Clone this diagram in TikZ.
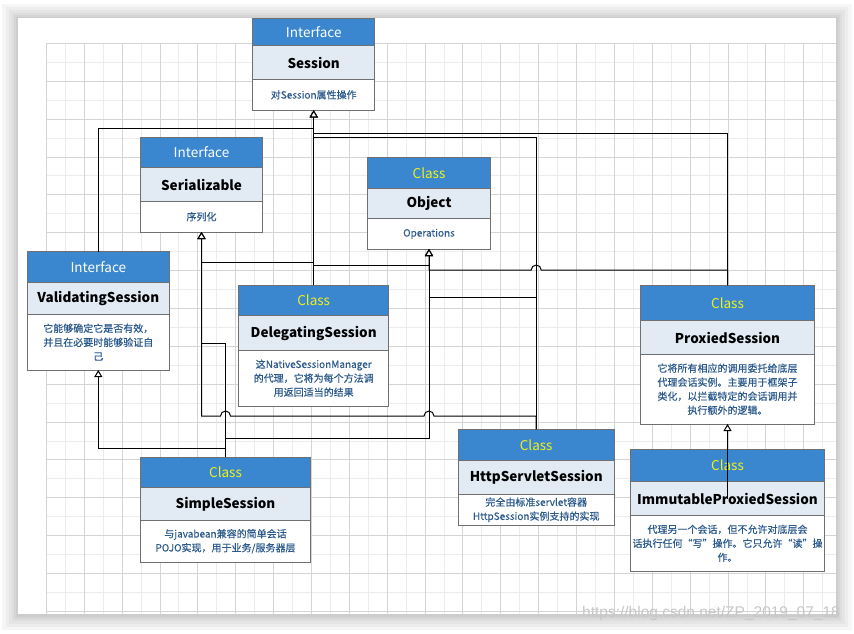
\documentclass[tikz,border=0pt]{standalone}
\usepackage{fontspec}
\setmainfont{Noto Sans CJK SC}
\newfontfamily\descfont{Noto Sans CJK SC}[FakeBold=0.4]
\newfontfamily\wmfont{Liberation Sans}
\usetikzlibrary{positioning,arrows.meta,calc}

\definecolor{hdrblue}{RGB}{58,135,208}
\definecolor{namebg}{RGB}{226,234,244}
\definecolor{descblue}{RGB}{44,90,140}
\definecolor{classyellow}{RGB}{240,240,20}
\definecolor{boxgray}{RGB}{112,112,112}
\definecolor{gridminor}{RGB}{236,236,236}
\definecolor{gridmajor}{RGB}{212,212,212}

\begin{document}
\begin{tikzpicture}[x=1pt,y=1pt,
    box/.style={draw=boxgray,line width=1pt,inner sep=0pt,outer sep=0pt,align=center},
    hdr/.style={box,fill=hdrblue,anchor=north,font=\fontsize{13.5}{15}\selectfont},
    iface/.style={hdr,text=white},
    klass/.style={hdr,text=classyellow},
    cname/.style={box,fill=namebg,font=\bfseries\fontsize{13.5}{16}\selectfont},
    cbody/.style={box,fill=white,text=descblue,font=\descfont\fontsize{10}{14}\selectfont},
    conn/.style={line width=1pt},
    realize/.style={conn,-{Triangle[fill=white,length=7pt,width=8pt]}},
    shade/.style={fill=black,fill opacity=0.035}
  ]
  \useasboundingbox (0,0) rectangle (854,-633);

  % page with its shadow
  \fill[shade] (2,-4) rectangle (852,-630);
  \fill[shade] (6,-7) rectangle (848,-627);
  \fill[shade] (9,-10) rectangle (845,-624);
  \fill[shade] (12,-13) rectangle (842,-621);
  \fill[shade] (14,-15) rectangle (840,-619);
  \fill[shade] (16,-17) rectangle (838,-617);
  \fill[white] (18,-18) rectangle (836,-614);
  \begin{scope}[shift={(46.3,-43.3)}]
    \draw[gridminor,line width=0.8pt,step=18.935pt] (0,0) grid (789.7,-570.7);
    \draw[gridmajor,line width=0.8pt,step=37.87pt] (0,0) grid (789.7,-570.7);
  \end{scope}

  % interfaces
  \node at (313.7,-18.3) [iface,minimum width=122,minimum height=27.4] (sesH) {Interface};
  \node [cname,minimum width=122,minimum height=33.6,below=0pt of sesH] (sesN) {Session};
  \node [cbody,minimum width=122,minimum height=31,below=0pt of sesN] (sesB) {对Session属性操作};

  \node at (201.5,-137.3) [iface,minimum width=121.6,minimum height=30.4] (serH) {Interface};
  \node [cname,minimum width=121.6,minimum height=33.6,below=0pt of serH] (serN) {Serializable};
  \node [cbody,minimum width=121.6,minimum height=30.7,below=0pt of serN] (serB) {序列化};

  \node at (98.3,-251.7) [iface,minimum width=142,minimum height=30.6] (valH) {Interface};
  \node [cname,minimum width=142,minimum height=32,below=0pt of valH] (valN) {ValidatingSession};
  \node [cbody,minimum width=142,minimum height=55.7,below=0pt of valN] (valB)
    {它能够确定它是否有效，\\并且在必要时能够验证自\\己};

  % classes
  \node at (429,-157.3) [klass,minimum width=122.6,minimum height=31.4] (objH) {Class};
  \node [cname,minimum width=122.6,minimum height=30,below=0pt of objH] (objN) {Object};
  \node [cbody,minimum width=122.6,minimum height=30.3,below=0pt of objN] (objB) {Operations};

  \node at (313.7,-285.3) [klass,minimum width=150.3,minimum height=30.4] (delH) {Class};
  \node [cname,minimum width=150.3,minimum height=34.6,below=0pt of delH] (delN) {DelegatingSession};
  \node [cbody,minimum width=150.3,minimum height=55.7,below=0pt of delN] (delB)
    {这NativeSessionManager\\的代理，它将为每个方法调\\用返回适当的结果};

  \node at (727.5,-285.3) [klass,minimum width=173.6,minimum height=35.4] (proH) {Class};
  \node [cname,minimum width=173.6,minimum height=33.6,below=0pt of proH] (proN) {ProxiedSession};
  \node [cbody,minimum width=173.6,minimum height=69.7,below=0pt of proN] (proB)
    {它将所有相应的调用委托给底层\\代理会话实例。主要用于框架子\\类化，以拦截特定的会话调用并\\执行额外的逻辑。};

  \node at (225.5,-457.3) [klass,minimum width=169.6,minimum height=30.4] (simH) {Class};
  \node [cname,minimum width=169.6,minimum height=32.6,below=0pt of simH] (simN) {SimpleSession};
  \node [cbody,minimum width=169.6,minimum height=41.7,below=0pt of simN] (simB)
    {与javabean兼容的简单会话\\POJO实现，用于业务/服务器层};

  \node at (536.2,-429.3) [klass,minimum width=155.7,minimum height=31] (hsvH) {Class};
  \node [cname,minimum width=155.7,minimum height=34,below=0pt of hsvH] (hsvN) {HttpServletSession};
  \node [cbody,minimum width=155.7,minimum height=31,below=0pt of hsvN] (hsvB)
    {完全由标准servlet容器\\HttpSession实例支持的实现};

  \node at (727.5,-449.3) [klass,minimum width=193.6,minimum height=32.4] (immH) {Class};
  \node [cname,minimum width=193.6,minimum height=33.6,below=0pt of immH] (immN) {ImmutableProxiedSession};
  \node [cbody,minimum width=193.6,minimum height=56,below=0pt of immN] (immB)
    {代理另一个会话，但不允许对底层会\\话执行任何“写”操作。它只允许“读”操\\作。};

  % realizations of Session
  \draw[realize] (delH.north) -- (sesB.south);
  \draw[realize] (valH.north) |- ($(sesB.south)+(0,-17.7)$) -- (sesB.south);
  \draw[realize] (proH.north) |- ($(sesB.south)+(0,-22.7)$) -- (sesB.south);
  \draw[realize] (hsvH.north) |- ($(sesB.south)+(0,-26.7)$) -- (sesB.south);

  % Serializable and Object
  \draw[realize] (delH.north) |- ($(serB.south)+(0,-30)$) -- (serB.south);
  \draw[realize] (delH.north) |- ($(objB.south)+(0,-16)$) -- (objB.south);
  \draw[realize] (proH.north) |- ($(hsvH.north |- objB.south)+(5,-21)$)
    arc[start angle=0,end angle=180,radius=5] -| (objB.south);
  \draw[realize] (hsvH.north) |- ($(objB.south)+(0,-48)$) -- (objB.south);
  \draw[realize] (hsvH.north) |- ($(objB.south |- serB.south)+(5,-184)$)
    arc[start angle=0,end angle=180,radius=5] -- ($(simH.north |- serB.south)+(5,-184)$)
    arc[start angle=0,end angle=180,radius=5] -| (serB.south);
  \draw[realize] (simH.north) |- ($(serB.south)+(0,-111)$) -- (serB.south);
  \draw[realize] (simH.north) |- ($(objB.south)+(0,-189)$) -- (objB.south);
  \draw[realize] (simH.north) |- ($(valB.south)+(0,-78)$) -- (valB.south);

  % ProxiedSession
  \draw[realize] (immN.center) -- (proB.south);

  \node at (711,-613) [text=black!22,font=\wmfont\fontsize{15.5}{18}\selectfont] (wm)
    {https://blog.csdn.net/ZP\_2019\_07\_18};
\end{tikzpicture}
\end{document}
